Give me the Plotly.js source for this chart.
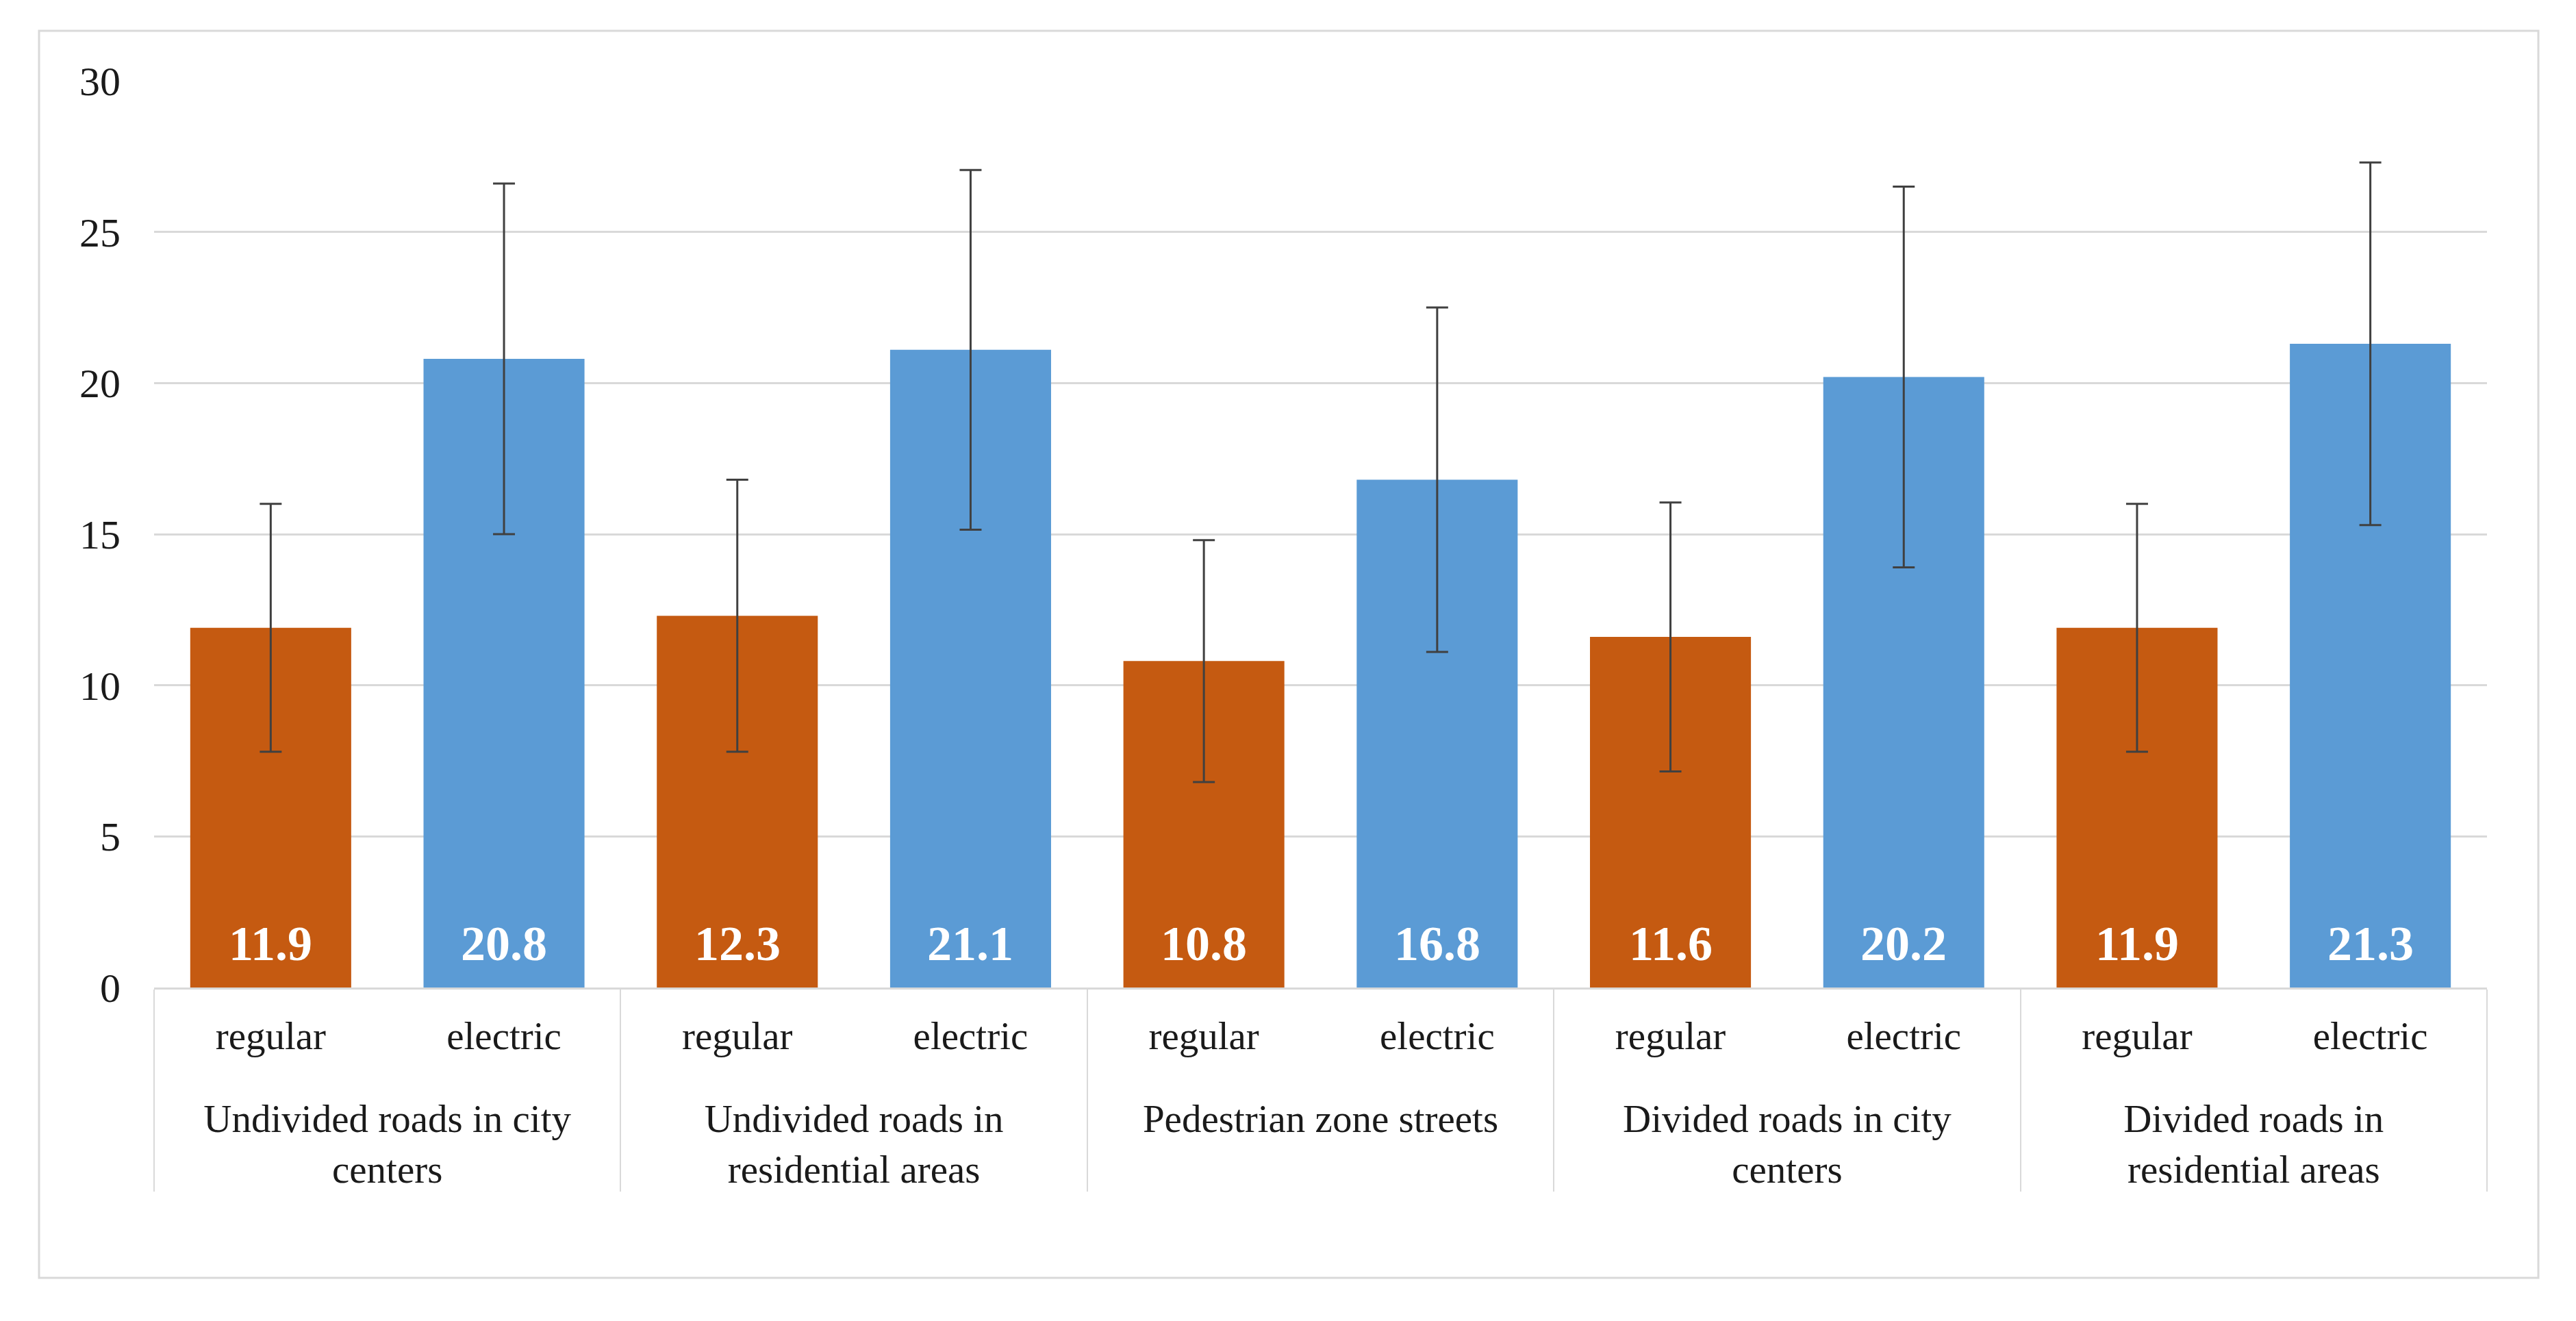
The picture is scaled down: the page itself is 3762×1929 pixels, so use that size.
<!DOCTYPE html>
<html>
<head>
<meta charset="utf-8">
<script src="https://cdn.plot.ly/plotly-3.0.1.min.js"></script>
<style>
  html, body { margin: 0; padding: 0; background: #ffffff; }
  #chart { width: 3762px; height: 1929px; }
</style>
</head>
<body>
<div id="chart"></div>
<script>
// ---- data ----
const groups = [
  "Undivided roads in city<br>centers",
  "Undivided roads in<br>residential areas",
  "Pedestrian zone streets",
  "Divided roads in city<br>centers",
  "Divided roads in<br>residential areas"
];
const types = ["regular", "electric"];
const regularValues = [11.9, 12.3, 10.8, 11.6, 11.9];
const electricValues = [20.8, 21.1, 16.8, 20.2, 21.3];
const regularErrors = [4.1, 4.5, 4.0, 4.45, 4.1];
const electricErrors = [5.8, 5.95, 5.7, 6.3, 6.0];
const yTickValues = [0, 5, 10, 15, 20, 25, 30];

// ---- build ----
const colorRegular = "#C55A11";
const colorElectric = "#5B9BD5";
const xGroup = [], xType = [], yVals = [], errs = [], colors = [];
groups.forEach((g, i) => {
  const label = "<br>" + g;   // leading blank line drops the group row below the type row
  xGroup.push(label, label);
  xType.push(types[0], types[1]);
  yVals.push(regularValues[i], electricValues[i]);
  errs.push(regularErrors[i], electricErrors[i]);
  colors.push(colorRegular, colorElectric);
});

const trace = {
  type: "bar",
  x: [xGroup, xType],
  y: yVals,
  marker: { color: colors, line: { width: 0 } },
  error_y: {
    type: "data",
    array: errs,
    visible: true,
    color: "#404040",
    thickness: 3,
    width: 16
  },
  hoverinfo: "skip",
  showlegend: false
};

const fontFamily = "'Liberation Serif', 'Times New Roman', serif";

const annotations = yVals.map((v, i) => ({
  x: i,
  y: 0,
  xref: "x",
  yref: "y",
  text: "<b>" + v.toFixed(1) + "</b>",
  showarrow: false,
  yanchor: "middle",
  xanchor: "center",
  yshift: 64,
  font: { family: fontFamily, size: 72, color: "#ffffff" }
}));

const layout = {
  width: 3762,
  height: 1929,
  paper_bgcolor: "#ffffff",
  plot_bgcolor: "#ffffff",
  margin: { l: 225, r: 130, t: 118, b: 487 },
  bargap: 0.31,
  font: { family: fontFamily, size: 57, color: "#1a1a1a" },
  xaxis: {
    type: "multicategory",
    showgrid: false,
    showline: true,
    linecolor: "#d9d9d9",
    linewidth: 3,
    ticks: "",
    showdividers: true,
    dividercolor: "#d9d9d9",
    dividerwidth: 2,
    tickfont: { family: fontFamily, size: 57, color: "#1a1a1a" },
    ticklabelstandoff: 19
  },
  yaxis: {
    range: [0, 30],
    tickvals: yTickValues,
    ticktext: yTickValues.map(String),
    showgrid: true,
    gridcolor: "#d9d9d9",
    gridwidth: 3,
    zeroline: false,
    showline: false,
    ticks: "",
    ticklabelstandoff: 48,
    tickfont: { family: fontFamily, size: 60, color: "#1a1a1a" }
  },
  annotations: annotations,
  shapes: [{
    type: "rect",
    xref: "paper",
    yref: "paper",
    x0: (57 - 225) / 3407,
    x1: (3707 - 225) / 3407,
    y0: (1442 - 1866) / 1324,
    y1: (1442 - 45) / 1324,
    line: { color: "#d9d9d9", width: 3 },
    fillcolor: "rgba(0,0,0,0)",
    layer: "below"
  }]
};

Plotly.newPlot("chart", [trace], layout, { displayModeBar: false, staticPlot: true });
</script>
</body>
</html>
